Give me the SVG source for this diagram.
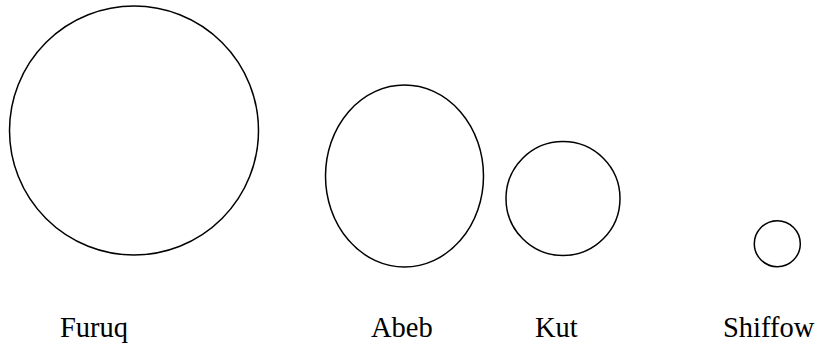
<svg xmlns="http://www.w3.org/2000/svg" width="822" height="347" viewBox="0 0 822 347">
<style>
.shape{fill:none;stroke:#000;stroke-width:1.5}
.lbl{font-family:"Liberation Serif","Times New Roman",serif;font-size:28.5px;fill:#000}
</style>
<rect width="822" height="347" fill="#fff"/>
<g id="furuq">
<circle class="shape" cx="134" cy="130.5" r="124.5"/>
<text class="lbl" x="60" y="337">Furuq</text>
</g>
<g id="abeb">
<ellipse class="shape" cx="404.5" cy="176" rx="79" ry="91"/>
<text class="lbl" x="371" y="337">Abeb</text>
</g>
<g id="kut">
<circle class="shape" cx="563" cy="198.5" r="57"/>
<text class="lbl" x="535" y="337">Kut</text>
</g>
<g id="shiffow">
<circle class="shape" cx="777.3" cy="243.7" r="23"/>
<text class="lbl" x="723" y="337">Shiffow</text>
</g>
<g id="connectors"/>
</svg>
